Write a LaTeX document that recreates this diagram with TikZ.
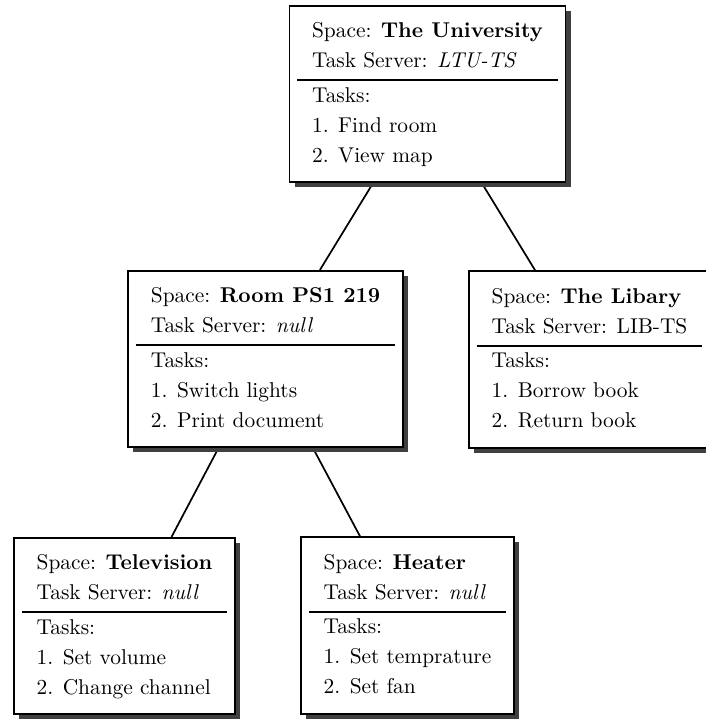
\documentclass[tikz,border=0pt]{standalone}
\usetikzlibrary{shadows,backgrounds}
\tikzset{
    spacebox/.style = {
        draw, thick, fill=white, inner xsep=3.6pt, inner ysep=5pt,
        drop shadow={shadow xshift=2.4pt, shadow yshift=-2.4pt, fill=black!75, opacity=1}
    },
    link/.style = {thick},
}
\newcommand{\spacecard}[4]{%
    \renewcommand{\arraystretch}{1.17}\setlength{\tabcolsep}{7pt}\setlength{\arrayrulewidth}{1pt}%
    \begin{tabular}{l}
    Space: \textbf{#1}\\
    Task Server: #2\\[1.2pt] \hline
    Tasks:\\
    1. #3\\
    2. #4
    \end{tabular}}

\begin{document}
\begin{tikzpicture}
\useasboundingbox (0,0) rectangle (11.595,-11.825);

\node[spacebox] (uni) at (7.021,-1.544) {\spacecard{The University}{\textit{LTU-TS}}{Find room}{View map}};
\node[spacebox] (room) at (4.361,-5.896) {\spacecard{Room PS1 219}{\textit{null}}{Switch lights}{Print document}};
\node[spacebox] (lib) at (9.682,-5.904) {\spacecard{The Libary}{LIB-TS}{Borrow book}{Return book}};
\node[spacebox] (tv) at (2.045,-10.281) {\spacecard{Television}{\textit{null}}{Set volume}{Change channel}};
\node[spacebox] (heater) at (6.693,-10.273) {\spacecard{Heater}{\textit{null}}{Set temprature}{Set fan}};

\begin{scope}[on background layer]
\draw[link] (uni) -- (room);
\draw[link] (uni) -- (lib);
\draw[link] (room) -- (tv);
\draw[link] (room) -- (heater);
\end{scope}

\end{tikzpicture}
\end{document}
